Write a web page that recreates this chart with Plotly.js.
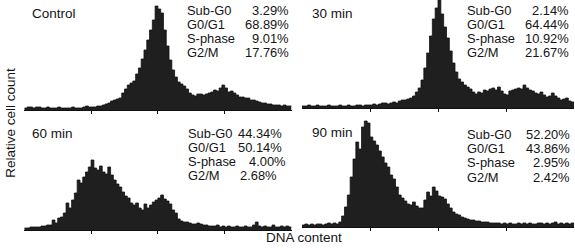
<!DOCTYPE html>
<html>
<head>
<meta charset="utf-8">
<script src="https://cdn.plot.ly/plotly-3.0.1.min.js"></script>
<style>
html,body{margin:0;padding:0;background:#fff;}
#chart{width:575px;height:249px;}
</style>
</head>
<body>
<div id="chart"></div>
<script>
// ---- DATA (relative cell counts per DNA-content bin, 96 bins) ----
const panelNames = ["Control", "30 min", "60 min", "90 min"];
const phaseLabels = ["Sub-G0", "G0/G1", "S-phase", "G2/M"];

const controlCounts = [
  2,3,3,2,3,3,2,2,3,2,
  2,2,3,2,2,2,2,3,2,2,
  2,3,4,3,3,3,4,4,5,6,
  7,9,10,11,12,17,21,25,27,29,
  36,42,51,60,70,80,90,104,101,97,
  80,64,50,40,33,28,26,24,21,17,
  15,14,16,16,15,16,17,18,20,19,
  22,25,22,18,19,17,15,13,13,12,
  12,10,10,9,8,7,7,6,6,5,
  5,5,4,5,4,4
];
const min30Counts = [
  2,2,3,2,2,3,2,2,2,3,
  2,2,2,3,2,2,3,2,2,3,
  3,2,3,3,3,4,3,4,5,5,
  4,5,6,5,7,8,8,9,10,12,
  16,20,28,40,55,72,89,100,108,94,
  81,70,57,45,36,29,26,23,21,19,
  16,14,16,15,18,17,19,20,18,21,
  17,14,13,17,18,19,20,19,23,20,
  18,17,15,14,16,13,11,12,15,12,
  10,8,9,10,7,6
];
const min60Counts = [
  2,2,3,3,3,3,4,4,5,5,
  10,7,12,13,17,27,22,30,37,50,
  47,53,58,63,70,62,60,64,58,56,
  63,55,50,46,43,38,34,32,27,25,
  27,22,20,26,22,25,28,30,32,35,
  31,29,26,20,17,11,9,8,8,7,
  6,6,7,6,5,5,4,4,4,5,
  3,4,3,4,3,3,4,3,3,4,
  3,3,5,8,4,3,4,3,3,5,
  3,3,4,3,4,3
];
const min90Counts = [
  2,3,2,3,2,3,3,2,3,4,
  3,4,3,5,11,20,32,50,68,85,
  78,100,106,104,90,86,82,76,70,64,
  60,52,48,40,32,29,26,23,22,25,
  21,19,19,27,35,31,40,36,31,30,
  28,23,19,15,13,12,10,9,8,7,
  7,6,6,5,5,5,4,4,4,4,
  3,4,3,4,3,3,4,3,4,3,
  4,3,3,4,4,3,4,3,4,5,
  3,4,3,4,3,4
];
const controlPct = ["3.29%", "68.89%", "9.01%", "17.76%"];
const min30Pct = ["2.14%", "64.44%", "10.92%", "21.67%"];
const min60Pct = ["44.34%", "50.14%", "4.00%", "2.68%"];
const min90Pct = ["52.20%", "43.86%", "2.95%", "2.42%"];
const tickBins = [24, 48, 72];
const xAxisTitle = "DNA content";
const yAxisTitle = "Relative cell count";

// ---- LAYOUT HELPERS ----
const W = 575, H = 249;
const px = x => x / W;
const py = y => 1 - y / H;
const FAMILY = "Liberation Sans, Arial, Helvetica, sans-serif";
const FONT = {family: FAMILY, size: 13.5, color: "#151515"};
const STATFONT = {family: FAMILY, size: 12.9, color: "#151515"};
const FILL = "#1f1f1f";

const allCounts = [controlCounts, min30Counts, min60Counts, min90Counts];
const allPct = [controlPct, min30Pct, min60Pct, min90Pct];

// panel geometry in pixels: [xLeft, xRight, yAxis, yTop]
const geom = [
  [24.3, 291.5, 110, 0],
  [302, 574, 108, 0],
  [24.3, 291.5, 230, 120],
  [302, 574, 227, 117]
];

const traces = [];
const layout = {
  width: W, height: H,
  margin: {l: 0, r: 0, t: 0, b: 0, pad: 0},
  paper_bgcolor: "#fff", plot_bgcolor: "rgba(0,0,0,0)",
  showlegend: false,
  annotations: []
};

allCounts.forEach((counts, k) => {
  const n = counts.length;
  const xs = Array.from({length: n + 1}, (_, i) => i);
  const ys = counts.concat([counts[n - 1]]);
  const sfx = k === 0 ? "" : String(k + 1);
  traces.push({
    type: "scatter", mode: "lines",
    x: xs, y: ys,
    xaxis: "x" + sfx, yaxis: "y" + sfx,
    line: {shape: "hv", color: "#111", width: 0.8},
    fill: "tozeroy", fillcolor: FILL,
    hoverinfo: "skip"
  });
  const g = geom[k];
  const yh = g[2] - g[3];
  layout["xaxis" + sfx] = {
    domain: [px(g[0]), px(g[1])], anchor: "y" + sfx,
    range: [0, n], showgrid: false, zeroline: false,
    showline: true, linecolor: "#111", linewidth: 1,
    ticks: "outside", ticklen: 3, tickwidth: 1, tickcolor: "#111",
    tickvals: tickBins, showticklabels: false, fixedrange: true
  };
  layout["yaxis" + sfx] = {
    domain: [py(g[2]), py(g[3])], anchor: "x" + sfx,
    range: [0, yh], visible: false, fixedrange: true
  };
});

function ann(text, x, y, xanchor, font, extra) {
  layout.annotations.push(Object.assign({
    text: text, xref: "paper", yref: "paper",
    x: px(x), y: py(y), xanchor: xanchor, yanchor: "middle",
    showarrow: false, font: font, borderpad: 0
  }, extra || {}));
}

// panel titles
const titlePos = [[31, 13.3], [311, 13.3], [31, 133.5], [311, 132.5]];
panelNames.forEach((t, k) => ann(t, titlePos[k][0], titlePos[k][1], "left", FONT));

// phase statistics
const labelX = [186.2, 465.5, 186.8, 466.2];
const valueX = [
  [290, 290, 290, 290],
  [570, 570, 570, 570],
  [283.2, 283.2, 287.2, 277.8],
  [570.5, 570.5, 570.5, 570.5]
];
const firstY = [10, 10, 133, 134.5];
allPct.forEach((vals, k) => {
  phaseLabels.forEach((lab, j) => {
    const y = firstY[k] + 14.2 * j;
    ann(lab, labelX[k], y, "left", STATFONT);
    ann(vals[j], valueX[k][j], y, "right", STATFONT);
  });
});

// axis titles
ann(yAxisTitle, 10.3, 122.5, "center", FONT, {textangle: -90});
ann(xAxisTitle, 264.5, 237, "left", FONT);

Plotly.newPlot("chart", traces, layout, {staticPlot: true, displayModeBar: false});
</script>
</body>
</html>
